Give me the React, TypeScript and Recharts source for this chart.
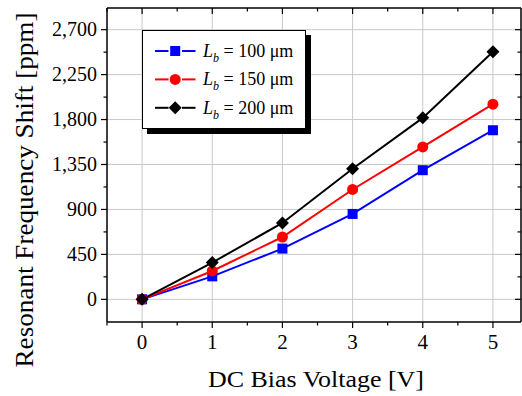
import React from 'react';
import { LineChart, Line, XAxis, YAxis, ReferenceLine, Legend, Label } from 'recharts';

const voltages = [0, 1, 2, 3, 4, 5];
const shiftLb100 = [0, 230, 508, 855, 1293, 1693];
const shiftLb150 = [0, 284, 624, 1100, 1526, 1954];
const shiftLb200 = [0, 368, 765, 1308, 1817, 2478];
const seriesNames = ['100', '150', '200'];
const seriesColors = ['#0000ff', '#ff0000', '#000000'];

const xTicks = [-0.5, 0, 0.5, 1, 1.5, 2, 2.5, 3, 3.5, 4, 4.5, 5];
const xMajor = [0, 1, 2, 3, 4, 5];
const yTicks = [0, 225, 450, 675, 900, 1125, 1350, 1575, 1800, 2025, 2250, 2475, 2700];
const yMajor = [0, 450, 900, 1350, 1800, 2250, 2700];

const data = voltages.map((v, i) => ({
  v,
  s100: shiftLb100[i],
  s150: shiftLb150[i],
  s200: shiftLb200[i],
}));

const FONT = 'Liberation Serif';

const isMajorX = (v: number) => xMajor.includes(v);
const isMajorY = (v: number) => yMajor.includes(v);

const BottomTick = (p: any) => {
  const { x, y, payload } = p;
  const major = isMajorX(payload.value);
  return (
    <g>
      <line x1={x} y1={y} x2={x} y2={y + (major ? 6 : 3.5)} stroke="#000" strokeWidth={1.2} />
      {major && (
        <text x={x} y={y + 27} textAnchor="middle" fontSize={21} fontFamily={FONT} fill="#000">
          {payload.value}
        </text>
      )}
    </g>
  );
};

const TopTick = (p: any) => {
  const { x, y, payload } = p;
  const major = isMajorX(payload.value);
  return <line x1={x} y1={y} x2={x} y2={y + (major ? 6 : 3.5)} stroke="#000" strokeWidth={1.2} />;
};

const LeftTick = (p: any) => {
  const { x, y, payload } = p;
  const major = isMajorY(payload.value);
  return (
    <g>
      <line x1={x} y1={y} x2={x - (major ? 6 : 3.5)} y2={y} stroke="#000" strokeWidth={1.2} />
      {major && (
        <text x={x - 10} y={y + 6.5} textAnchor="end" fontSize={20} fontFamily={FONT} fill="#000">
          {payload.value.toLocaleString('en-US')}
        </text>
      )}
    </g>
  );
};

const RightTick = (p: any) => {
  const { x, y, payload } = p;
  const major = isMajorY(payload.value);
  return <line x1={x} y1={y} x2={x - (major ? 6 : 3.5)} y2={y} stroke="#000" strokeWidth={1.2} />;
};

const Marker = ({ kind, cx, cy, color }: any) => {
  if (kind === 0) return <rect x={cx - 5} y={cy - 5} width={10} height={10} fill={color} />;
  if (kind === 1) return <circle cx={cx} cy={cy} r={5.5} fill={color} />;
  return <polygon points={`${cx},${cy - 6.5} ${cx + 6.5},${cy} ${cx},${cy + 6.5} ${cx - 6.5},${cy}`} fill={color} />;
};

const makeDot = (kind: number) => (p: any) => (
  <Marker key={`d${kind}-${p.index}`} kind={kind} cx={p.cx} cy={p.cy} color={seriesColors[kind]} />
);

const LegendBox = () => (
  <div
    style={{
      border: '1px solid #000',
      background: '#fff',
      boxShadow: '5px 5px 0 #000',
      width: 164,
      height: 99,
      boxSizing: 'border-box',
    }}
  >
    <svg width={162} height={97} style={{ display: 'block' }}>
      {seriesNames.map((n, i) => {
        const cy = 20 + i * 28.4;
        return (
          <g key={n}>
            <line x1={12} y1={cy} x2={25.5} y2={cy} stroke={seriesColors[i]} strokeWidth={2} />
            <line x1={39} y1={cy} x2={52.5} y2={cy} stroke={seriesColors[i]} strokeWidth={2} />
            <Marker kind={i} cx={32.2} cy={cy} color={seriesColors[i]} />
            <text x={60} y={cy + 6} fontSize={18} fontFamily={FONT} fill="#000">
              <tspan fontStyle="italic">L</tspan>
              <tspan fontStyle="italic" fontSize={12} dy={5}>b</tspan>
              <tspan dy={-5}>{` = ${n} \u03bcm`}</tspan>
            </text>
          </g>
        );
      })}
    </svg>
  </div>
);

export default function App() {
  return (
    <div style={{ position: 'absolute', left: 0, top: 0, width: 522, height: 396, background: '#fff', fontFamily: FONT }}>
      <LineChart width={522} height={396} data={data} margin={{ top: 7, right: 0, bottom: 73, left: 0 }}>
        <XAxis
          xAxisId="b"
          dataKey="v"
          type="number"
          domain={[-0.5, 5.4]}
          ticks={xTicks}
          interval={0}
          orientation="bottom"
          height={1}
          tickSize={0}
          tickMargin={0}
          tickLine={false}
          tick={<BottomTick />}
          axisLine={{ stroke: '#000', strokeWidth: 1.5 }}
          allowDataOverflow
        >
          <Label
            content={() => (
              <text x={316} y={387} textAnchor="middle" fontSize={23} fontFamily={FONT} fill="#000" textLength={216} lengthAdjust="spacingAndGlyphs">
                DC Bias Voltage [V]
              </text>
            )}
          />
        </XAxis>
        <XAxis
          xAxisId="t"
          dataKey="v"
          type="number"
          domain={[-0.5, 5.4]}
          ticks={xTicks}
          interval={0}
          orientation="top"
          height={1}
          tickSize={0}
          tickMargin={0}
          tickLine={false}
          tick={<TopTick />}
          axisLine={{ stroke: '#000', strokeWidth: 1.5 }}
          allowDataOverflow
        />
        <YAxis
          yAxisId="l"
          type="number"
          domain={[-227, 2917]}
          ticks={yTicks}
          interval={0}
          orientation="left"
          width={107}
          tickSize={0}
          tickMargin={0}
          tickLine={false}
          tick={<LeftTick />}
          axisLine={{ stroke: '#000', strokeWidth: 1.5 }}
          allowDataOverflow
        >
          <Label
            content={() => (
              <text
                transform="translate(33,190) rotate(-90)"
                textAnchor="middle"
                fontSize={25}
                fontFamily={FONT}
                fill="#000"
                textLength={355}
                lengthAdjust="spacingAndGlyphs"
              >
                Resonant Frequency Shift [ppm]
              </text>
            )}
          />
        </YAxis>
        <YAxis
          yAxisId="r"
          type="number"
          domain={[-227, 2917]}
          ticks={yTicks}
          interval={0}
          orientation="right"
          width={1}
          tickSize={0}
          tickMargin={0}
          tickLine={false}
          tick={<RightTick />}
          axisLine={{ stroke: '#000', strokeWidth: 1.5 }}
          allowDataOverflow
        />
        {xMajor.map((v) => (
          <ReferenceLine key={`gx${v}`} xAxisId="b" yAxisId="l" x={v} stroke="#c8c8c8" strokeWidth={1} />
        ))}
        {yMajor.map((v) => (
          <ReferenceLine key={`gy${v}`} xAxisId="b" yAxisId="l" y={v} stroke="#c8c8c8" strokeWidth={1} />
        ))}
        <Legend
          layout="vertical"
          verticalAlign="middle"
          align="center"
          wrapperStyle={{ left: 142, top: 30, width: 'auto', height: 'auto' }}
          content={() => <LegendBox />}
        />
        <Line xAxisId="b" yAxisId="l" dataKey="s100" stroke={seriesColors[0]} strokeWidth={2} dot={makeDot(0)} isAnimationActive={false} />
        <Line xAxisId="b" yAxisId="l" dataKey="s150" stroke={seriesColors[1]} strokeWidth={2} dot={makeDot(1)} isAnimationActive={false} />
        <Line xAxisId="b" yAxisId="l" dataKey="s200" stroke={seriesColors[2]} strokeWidth={2} dot={makeDot(2)} isAnimationActive={false} />
      </LineChart>
    </div>
  );
}
